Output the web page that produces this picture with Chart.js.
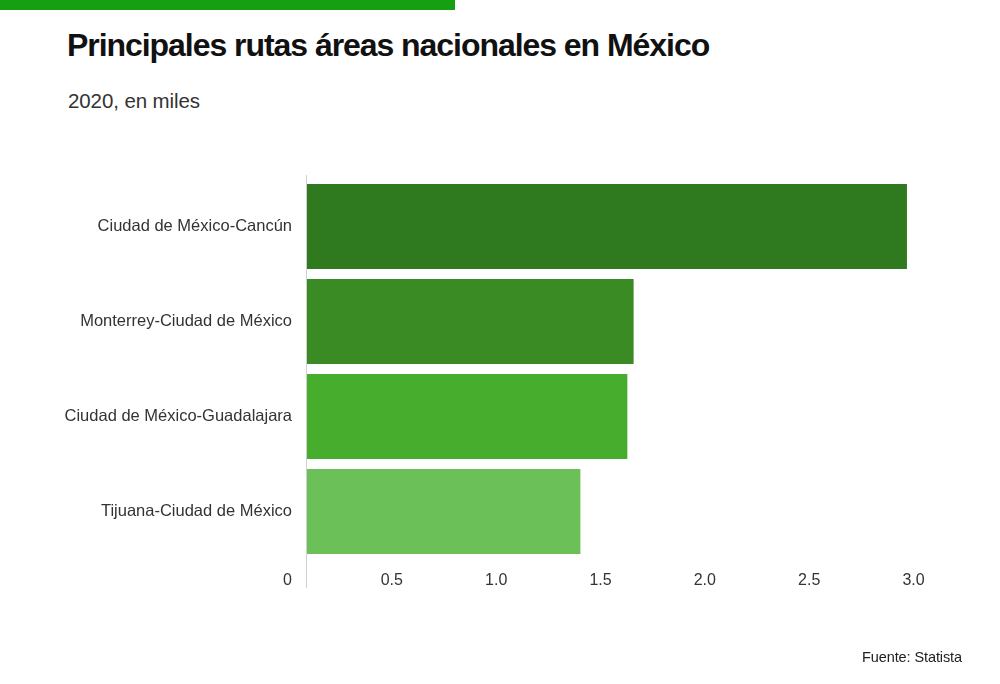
<!DOCTYPE html>
<html>
<head>
<meta charset="utf-8">
<script src="https://cdn.jsdelivr.net/npm/chart.js@4.4.1/dist/chart.umd.min.js"></script>
<style>
  html, body { margin:0; padding:0; background:#fff; }
  #wrap { position:relative; width:1000px; height:684px; overflow:hidden; background:#fff; }
  #stripe { position:absolute; left:0; top:0; width:455px; height:10px; background:#15a011; }
  #title { position:absolute; left:67px; top:27px; font-family:"Liberation Sans",Arial,sans-serif; font-weight:bold; font-size:32px; color:#111; white-space:nowrap; letter-spacing:-1.05px; }
  #subtitle { position:absolute; left:68px; top:89px; font-family:"Liberation Sans",Arial,sans-serif; font-size:20.5px; color:#333; white-space:nowrap; letter-spacing:-0.1px; }
  #source { position:absolute; right:38px; top:649px; font-family:"Liberation Sans",Arial,sans-serif; font-size:14.5px; color:#222; white-space:nowrap; letter-spacing:-0.1px; }
  canvas { position:absolute; left:0; top:0; }
</style>
</head>
<body>
<div id="wrap">
  <div id="stripe"></div>
  <div id="title">Principales rutas áreas nacionales en México</div>
  <div id="subtitle">2020, en miles</div>
  <canvas id="c" width="1000" height="684"></canvas>
  <div id="source">Fuente: Statista</div>
</div>
<script>
const categories = ["Ciudad de México-Cancún", "Monterrey-Ciudad de México", "Ciudad de México-Guadalajara", "Tijuana-Ciudad de México"];
const values = [2.88, 1.57, 1.54, 1.315];
const barColors = ["#2f7a1f", "#3a8b23", "#46ae2c", "#6cc058"];
const tickValues = [0, 0.5, 1.0, 1.5, 2.0, 2.5, 3.0];

const axisLine = {
  id: 'axisLine',
  afterDatasetsDraw(chart) {
    const {ctx, chartArea, scales} = chart;
    const x = Math.round(scales.x.getPixelForValue(0)) + 0.5;
    ctx.save();
    ctx.strokeStyle = '#d0d0d0';
    ctx.lineWidth = 1;
    ctx.beginPath();
    ctx.moveTo(x, chartArea.top - 4);
    ctx.lineTo(x, chartArea.bottom + 29);
    ctx.stroke();
    ctx.restore();
  }
};

new Chart(document.getElementById('c'), {
  type: 'bar',
  data: {
    labels: categories,
    datasets: [{
      data: values,
      backgroundColor: barColors,
      borderWidth: 0,
      barPercentage: 0.895,
      categoryPercentage: 1.0
    }]
  },
  options: {
    indexAxis: 'y',
    responsive: false,
    animation: false,
    devicePixelRatio: 1,
    layout: { padding: { left: 0, right: 68, top: 179, bottom: 85 } },
    plugins: { legend: { display: false }, tooltip: { enabled: false }, title: { display: false } },
    scales: {
      x: {
        min: 0, max: 3.0,
        afterFit(scale) { scale.height = 40; },
        afterBuildTicks(scale) { scale.ticks = tickValues.map(v => ({ value: v })); },
        grid: { display: false, drawTicks: false },
        border: { display: false },
        ticks: {
          padding: 12,
          labelOffset: -18.5,
          color: '#333',
          font: { family: '"Liberation Sans", Arial, sans-serif', size: 16 },
          callback: (v) => v === 0 ? '0' : Number(v).toFixed(1)
        }
      },
      y: {
        afterFit(scale) { scale.width = 306; },
        grid: { display: false, drawTicks: false },
        border: { display: false },
        ticks: {
          padding: 14,
          color: '#333',
          font: { family: '"Liberation Sans", Arial, sans-serif', size: 16.5 }
        }
      }
    }
  },
  plugins: [axisLine]
});
</script>
</body>
</html>
